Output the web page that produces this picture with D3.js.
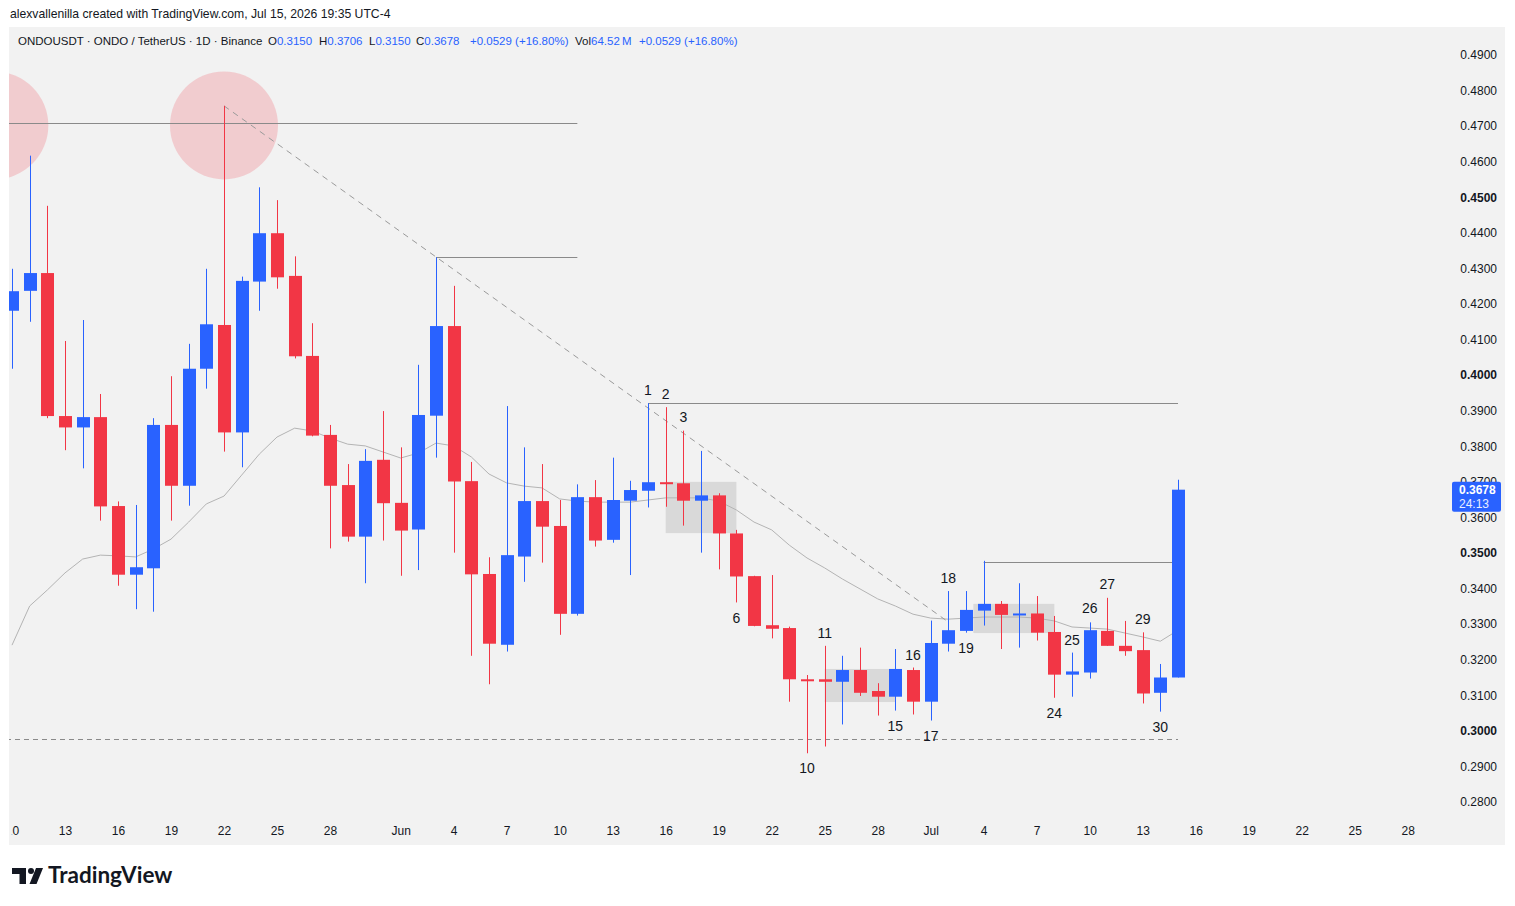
<!DOCTYPE html>
<html>
<head>
<meta charset="utf-8">
<script src="https://cdn.jsdelivr.net/npm/d3@7"></script>
<style>
  body { margin: 0; background: #ffffff; }
  svg { display: block; font-family: "Liberation Sans", Arial, sans-serif; }
</style>
</head>
<body>
<svg width="1515" height="906"></svg>
<script>
// daily candles, ONDOUSDT 1D
const dates = [
  "2026-05-10", "2026-05-11", "2026-05-12", "2026-05-13", "2026-05-14", "2026-05-15", "2026-05-16",
  "2026-05-17", "2026-05-18", "2026-05-19", "2026-05-20", "2026-05-21", "2026-05-22", "2026-05-23",
  "2026-05-24", "2026-05-25", "2026-05-26", "2026-05-27", "2026-05-28", "2026-05-29", "2026-05-30",
  "2026-05-31", "2026-06-01", "2026-06-02", "2026-06-03", "2026-06-04", "2026-06-05", "2026-06-06",
  "2026-06-07", "2026-06-08", "2026-06-09", "2026-06-10", "2026-06-11", "2026-06-12", "2026-06-13",
  "2026-06-14", "2026-06-15", "2026-06-16", "2026-06-17", "2026-06-18", "2026-06-19", "2026-06-20",
  "2026-06-21", "2026-06-22", "2026-06-23", "2026-06-24", "2026-06-25", "2026-06-26", "2026-06-27",
  "2026-06-28", "2026-06-29", "2026-06-30", "2026-07-01", "2026-07-02", "2026-07-03", "2026-07-04",
  "2026-07-05", "2026-07-06", "2026-07-07", "2026-07-08", "2026-07-09", "2026-07-10", "2026-07-11",
  "2026-07-12", "2026-07-13", "2026-07-14", "2026-07-15"
];
const opens = [
  0.4181, 0.4237, 0.4287, 0.3885, 0.3853, 0.3882, 0.3632,
  0.3439, 0.3457, 0.3860, 0.3689, 0.4018, 0.4141, 0.3839,
  0.4263, 0.4399, 0.4279, 0.4054, 0.3832, 0.3691, 0.3546,
  0.3762, 0.3641, 0.3566, 0.3886, 0.4138, 0.3702, 0.3441,
  0.3242, 0.3490, 0.3646, 0.3576, 0.3329, 0.3657, 0.3537,
  0.3647, 0.3675, 0.3699, 0.3696, 0.3647, 0.3662, 0.3555,
  0.3435, 0.3297, 0.3289, 0.3145, 0.3145, 0.3138, 0.3171,
  0.3112, 0.3096, 0.3171, 0.3082, 0.3245, 0.3281, 0.3338,
  0.3357, 0.3325, 0.3330, 0.3278, 0.3158, 0.3164, 0.3281,
  0.3239, 0.3227, 0.3107, 0.3150
];
const highs = [
  0.4299, 0.4617, 0.4476, 0.4096, 0.4155, 0.3947, 0.3645,
  0.3635, 0.3879, 0.3997, 0.4088, 0.4299, 0.4757, 0.4277,
  0.4528, 0.4492, 0.4334, 0.4146, 0.3860, 0.3750, 0.3792,
  0.3899, 0.3797, 0.4029, 0.4331, 0.4251, 0.3756, 0.3488,
  0.3913, 0.3797, 0.3750, 0.3649, 0.3693, 0.3705, 0.3768,
  0.3703, 0.3921, 0.3910, 0.3844, 0.3787, 0.3668, 0.3565,
  0.3436, 0.3438, 0.3293, 0.3157, 0.3239, 0.3211, 0.3234,
  0.3134, 0.3230, 0.3178, 0.3310, 0.3393, 0.3393, 0.3478,
  0.3365, 0.3415, 0.3379, 0.3323, 0.3220, 0.3305, 0.3374,
  0.3309, 0.3277, 0.3188, 0.3706
];
const lows = [
  0.4018, 0.4150, 0.3879, 0.3789, 0.3738, 0.3591, 0.3408,
  0.3342, 0.3335, 0.3591, 0.3633, 0.3962, 0.3785, 0.3741,
  0.4181, 0.4243, 0.4047, 0.3828, 0.3513, 0.3532, 0.3415,
  0.3535, 0.3436, 0.3452, 0.3768, 0.3501, 0.3211, 0.3131,
  0.3223, 0.3419, 0.3473, 0.3270, 0.3324, 0.3518, 0.3529,
  0.3438, 0.3628, 0.3630, 0.3577, 0.3501, 0.3454, 0.3361,
  0.3294, 0.3260, 0.3082, 0.2937, 0.2956, 0.3018, 0.3098,
  0.3043, 0.3057, 0.3046, 0.3029, 0.3223, 0.3276, 0.3296,
  0.3230, 0.3234, 0.3254, 0.3093, 0.3096, 0.3147, 0.3239,
  0.3211, 0.3077, 0.3054, 0.3150
];
const closes = [
  0.4236, 0.4287, 0.3885, 0.3853, 0.3882, 0.3631, 0.3439,
  0.3460, 0.3860, 0.3689, 0.4018, 0.4143, 0.3839, 0.4265,
  0.4399, 0.4275, 0.4053, 0.3830, 0.3689, 0.3546, 0.3759,
  0.3640, 0.3563, 0.3888, 0.4138, 0.3701, 0.3440, 0.3245,
  0.3494, 0.3646, 0.3574, 0.3329, 0.3657, 0.3535, 0.3649,
  0.3677, 0.3699, 0.3694, 0.3647, 0.3662, 0.3555, 0.3434,
  0.3295, 0.3287, 0.3145, 0.3141, 0.3138, 0.3171, 0.3107,
  0.3096, 0.3174, 0.3082, 0.3247, 0.3283, 0.3340, 0.3357,
  0.3326, 0.3330, 0.3276, 0.3158, 0.3167, 0.3283, 0.3239,
  0.3224, 0.3105, 0.3150, 0.3678
];
// moving average overlay (grey line)
const maValues = [
  0.3241, 0.3351, 0.3396, 0.3444, 0.3483, 0.3494, 0.3492,
  0.3489, 0.3511, 0.3539, 0.3587, 0.3638, 0.3660, 0.3719,
  0.3778, 0.3826, 0.3851, 0.3843, 0.3823, 0.3806, 0.3801,
  0.3784, 0.3767, 0.3781, 0.3809, 0.3801, 0.3770, 0.3722,
  0.3697, 0.3688, 0.3683, 0.3652, 0.3646, 0.3643, 0.3643,
  0.3643, 0.3649, 0.3655, 0.3655, 0.3655, 0.3646, 0.3621,
  0.3587, 0.3565, 0.3522, 0.3486, 0.3458, 0.3427, 0.3399,
  0.3371, 0.3351, 0.3328, 0.3317, 0.3314, 0.3317, 0.3320,
  0.3320, 0.3320, 0.3317, 0.3309, 0.3292, 0.3289, 0.3286,
  0.3275, 0.3264, 0.3252, 0.3283
];

const priceTicks = [0.28, 0.29, 0.30, 0.31, 0.32, 0.33, 0.34, 0.35, 0.36, 0.37, 0.38,
  0.39, 0.40, 0.41, 0.42, 0.43, 0.44, 0.45, 0.46, 0.47, 0.48, 0.49];
const boldTicks = [0.30, 0.35, 0.40, 0.45];
const dateTicks = ["2026-05-10", "2026-05-13", "2026-05-16", "2026-05-19", "2026-05-22", "2026-05-25",
  "2026-05-28", "2026-06-01", "2026-06-04", "2026-06-07", "2026-06-10", "2026-06-13", "2026-06-16",
  "2026-06-19", "2026-06-22", "2026-06-25", "2026-06-28", "2026-07-01", "2026-07-04", "2026-07-07",
  "2026-07-10", "2026-07-13", "2026-07-16", "2026-07-19", "2026-07-22", "2026-07-25", "2026-07-28"];
const dateTickLabels = ["10", "13", "16", "19", "22", "25", "28", "Jun", "4", "7", "10", "13", "16",
  "19", "22", "25", "28", "Jul", "4", "7", "10", "13", "16", "19", "22", "25", "28"];

// count labels drawn on the chart
const waveNumbers = ["1", "2", "3", "6", "10", "11", "15", "16", "17", "18", "19", "24", "25", "26", "27", "29", "30"];
const waveDates = ["2026-06-15", "2026-06-16", "2026-06-17", "2026-06-20", "2026-06-24", "2026-06-25",
  "2026-06-29", "2026-06-30", "2026-07-01", "2026-07-02", "2026-07-03", "2026-07-08", "2026-07-09",
  "2026-07-10", "2026-07-11", "2026-07-13", "2026-07-14"];
const wavePrices = [0.3958, 0.3947, 0.3882, 0.3317, 0.2896, 0.3275, 0.3014, 0.3213, 0.2986, 0.3430,
  0.3233, 0.3050, 0.3255, 0.3345, 0.3413, 0.3314, 0.3011];

// horizontal levels
const levelPrices = [0.4709, 0.4331, 0.3921, 0.3476, 0.2977];
const levelStarts = ["2026-05-01", "2026-06-03", "2026-06-15", "2026-07-04", "2026-05-01"];
const levelEnds = ["2026-06-11", "2026-06-11", "2026-07-15", "2026-07-15", "2026-07-15"];
const levelDashed = [false, false, false, false, true];

// consolidation boxes
const boxStarts = ["2026-06-16T00:00", "2026-06-25T00:00", "2026-07-03T10:00"];
const boxEnds = ["2026-06-20T00:00", "2026-06-29T00:00", "2026-07-08T00:00"];
const boxTops = [0.3700, 0.3174, 0.3357];
const boxBottoms = [0.3556, 0.3081, 0.3275];

// falling trend line
const trendDates = ["2026-05-22", "2026-07-02"];
const trendPrices = [0.4757, 0.3306];

// highlighted tops
const circleDates = ["2026-05-09", "2026-05-22"];
const circlePrices = [0.4702, 0.4702];

const UP = "#2962ff";
const DOWN = "#f23645";
const TEXT = "#131722";

const parseDay = d3.utcParse("%Y-%m-%d");
const parseHour = d3.utcParse("%Y-%m-%dT%H:%M");

const xScale = d3.scaleUtc()
  .domain([parseDay("2026-05-10"), parseDay("2026-07-28")])
  .range([12, 12 + 79 * 17.667]);
const yScale = d3.scaleLinear().domain([0.28, 0.49]).range([802, 55]);

function drawFrame(svg)
{
  svg.append("rect")
    .attr("x", 0).attr("y", 0).attr("width", 1515).attr("height", 906)
    .attr("fill", "#ffffff");
  svg.append("rect")
    .attr("x", 9).attr("y", 27).attr("width", 1496).attr("height", 818)
    .attr("fill", "#f2f2f2");

  svg.append("text")
    .attr("x", 10).attr("y", 18)
    .attr("font-size", 12.2)
    .attr("font-family", "'Liberation Sans Narrow', 'Liberation Sans', sans-serif")
    .attr("fill", TEXT)
    .text("alexvallenilla created with TradingView.com, Jul 15, 2026 19:35 UTC-4");

  const defs = svg.append("defs");
  defs.append("clipPath").attr("id", "plot-clip")
    .append("rect").attr("x", 9).attr("y", 27).attr("width", 1431).attr("height", 790);
  defs.append("clipPath").attr("id", "time-clip")
    .append("rect").attr("x", 11.8).attr("y", -20).attr("width", 1428).attr("height", 60);
}

function drawLegend(svg)
{
  const legend = svg.append("text")
    .attr("y", 45)
    .attr("font-size", 11.5)
    .attr("fill", TEXT);
  const parts = [
    [18, "ONDOUSDT · ONDO / TetherUS · 1D · Binance", TEXT],
    [268, "O", TEXT], [null, "0.3150", UP],
    [319, "H", TEXT], [null, "0.3706", UP],
    [369, "L", TEXT], [null, "0.3150", UP],
    [416, "C", TEXT], [null, "0.3678", UP],
    [470, "+0.0529 (+16.80%)", UP],
    [575, "Vol", TEXT], [null, "64.52\u2009M", UP],
    [639, "+0.0529 (+16.80%)", UP]
  ];
  parts.forEach((p) =>
  {
    const t = legend.append("tspan").attr("fill", p[2]).text(p[1]);
    if (p[0] !== null)
    {
      t.attr("x", p[0]);
    }
  });
}

function drawAxes(svg)
{
  const priceAxis = d3.axisRight(yScale)
    .tickValues(priceTicks)
    .tickFormat(d3.format(".4f"))
    .tickSize(0);
  const py = svg.append("g")
    .attr("transform", "translate(1497, 0)")
    .call(priceAxis);
  py.select(".domain").remove();
  py.selectAll("text")
    .attr("x", 0)
    .attr("text-anchor", "end")
    .attr("font-size", 12)
    .attr("font-family", "'Liberation Sans', sans-serif")
    .attr("font-weight", (d) => boldTicks.some((b) => Math.abs(b - d) < 1e-9) ? "bold" : "normal")
    .attr("fill", TEXT);

  const timeAxis = d3.axisBottom(xScale)
    .tickValues(dateTicks.map(parseDay))
    .tickFormat((d, i) => dateTickLabels[i])
    .tickSize(0)
    .tickPadding(3);
  const tx = svg.append("g")
    .attr("transform", "translate(0, 823)")
    .attr("clip-path", "url(#time-clip)")
    .call(timeAxis);
  tx.select(".domain").remove();
  tx.selectAll("text")
    .attr("font-size", 12)
    .attr("font-family", "'Liberation Sans Narrow', 'Liberation Sans', sans-serif")
    .attr("fill", TEXT);
}

function drawDrawings(plot)
{
  circleDates.forEach((d, i) =>
  {
    plot.append("circle")
      .attr("cx", xScale(parseDay(d)))
      .attr("cy", yScale(circlePrices[i]))
      .attr("r", 54)
      .attr("fill", DOWN)
      .attr("fill-opacity", 0.2);
  });

  boxStarts.forEach((d, i) =>
  {
    const x0 = xScale(parseHour(d));
    const x1 = xScale(parseHour(boxEnds[i]));
    plot.append("rect")
      .attr("x", x0)
      .attr("y", yScale(boxTops[i]))
      .attr("width", x1 - x0)
      .attr("height", yScale(boxBottoms[i]) - yScale(boxTops[i]))
      .attr("fill", "#9e9e9e")
      .attr("fill-opacity", 0.3);
  });

  const maLine = d3.line()
    .x((d, i) => xScale(parseDay(dates[i])))
    .y((d) => yScale(d));
  plot.append("path")
    .attr("d", maLine(maValues))
    .attr("fill", "none")
    .attr("stroke", "#b4b4b4")
    .attr("stroke-width", 1);

  levelPrices.forEach((p, i) =>
  {
    plot.append("line")
      .attr("x1", xScale(parseDay(levelStarts[i])))
      .attr("x2", xScale(parseDay(levelEnds[i])))
      .attr("y1", Math.round(yScale(p)) + 0.5)
      .attr("y2", Math.round(yScale(p)) + 0.5)
      .attr("stroke", "#8a8a8a")
      .attr("stroke-width", 1)
      .attr("stroke-dasharray", levelDashed[i] ? "5,4" : null);
  });

  plot.append("line")
    .attr("x1", xScale(parseDay(trendDates[0])))
    .attr("y1", yScale(trendPrices[0]))
    .attr("x2", xScale(parseDay(trendDates[1])))
    .attr("y2", yScale(trendPrices[1]))
    .attr("stroke", "#9a9a9a")
    .attr("stroke-width", 1)
    .attr("stroke-dasharray", "6,5");
}

function drawCandles(plot)
{
  const candles = dates.map((d, i) => ({
    date: parseDay(d), open: opens[i], high: highs[i], low: lows[i], close: closes[i]
  }));
  const bodyWidth = 13;

  const g = plot.append("g");
  candles.forEach((c) =>
  {
    const x = Math.round(xScale(c.date));
    const color = c.close >= c.open ? UP : DOWN;
    g.append("line")
      .attr("x1", x + 0.5).attr("x2", x + 0.5)
      .attr("y1", yScale(c.high)).attr("y2", yScale(c.low))
      .attr("stroke", color)
      .attr("stroke-width", 1);
    const top = yScale(Math.max(c.open, c.close));
    const bottom = yScale(Math.min(c.open, c.close));
    g.append("rect")
      .attr("x", x - 6)
      .attr("y", top)
      .attr("width", bodyWidth)
      .attr("height", Math.max(bottom - top, 2))
      .attr("fill", color);
  });
}

function drawWaveLabels(plot)
{
  waveNumbers.forEach((n, i) =>
  {
    plot.append("text")
      .attr("x", xScale(parseDay(waveDates[i])))
      .attr("y", yScale(wavePrices[i]))
      .attr("dy", "0.35em")
      .attr("text-anchor", "middle")
      .attr("font-size", 14)
      .attr("fill", TEXT)
      .text(n);
  });
}

function drawPriceTag(svg)
{
  const last = closes[closes.length - 1];
  const y = yScale(last);
  svg.append("rect")
    .attr("x", 1452).attr("y", y - 8)
    .attr("width", 49).attr("height", 30)
    .attr("rx", 2)
    .attr("fill", UP);
  svg.append("text")
    .attr("x", 1459).attr("y", y + 4.5)
    .attr("font-size", 12).attr("font-weight", "bold")
    .attr("fill", "#ffffff")
    .text(d3.format(".4f")(last));
  svg.append("text")
    .attr("x", 1459).attr("y", y + 18)
    .attr("font-size", 12)
    .attr("fill", "#e8eeff")
    .text("24:13");
}

function drawLogo(svg)
{
  const logo = svg.append("g").attr("fill", "#131722");
  logo.append("path").attr("d", "M12,868 H26 V884 H19.5 V874 H12 Z");
  logo.append("circle").attr("cx", 31).attr("cy", 871).attr("r", 3);
  logo.append("path").attr("d", "M36,868 H43 L36.5,884 H29.5 Z");
  svg.append("text")
    .attr("x", 48).attr("y", 883)
    .attr("font-family", "Lato, 'Liberation Sans', sans-serif")
    .attr("font-size", 22.5)
    .attr("font-weight", "bold")
    .attr("fill", "#131722")
    .text("TradingView");
}

function drawChart()
{
  const svg = d3.select("svg");
  drawFrame(svg);
  drawLegend(svg);
  drawAxes(svg);

  const plot = svg.append("g").attr("clip-path", "url(#plot-clip)");
  drawDrawings(plot);
  drawCandles(plot);
  drawWaveLabels(plot);

  drawPriceTag(svg);
  drawLogo(svg);
}

drawChart();
</script>
</body>
</html>
